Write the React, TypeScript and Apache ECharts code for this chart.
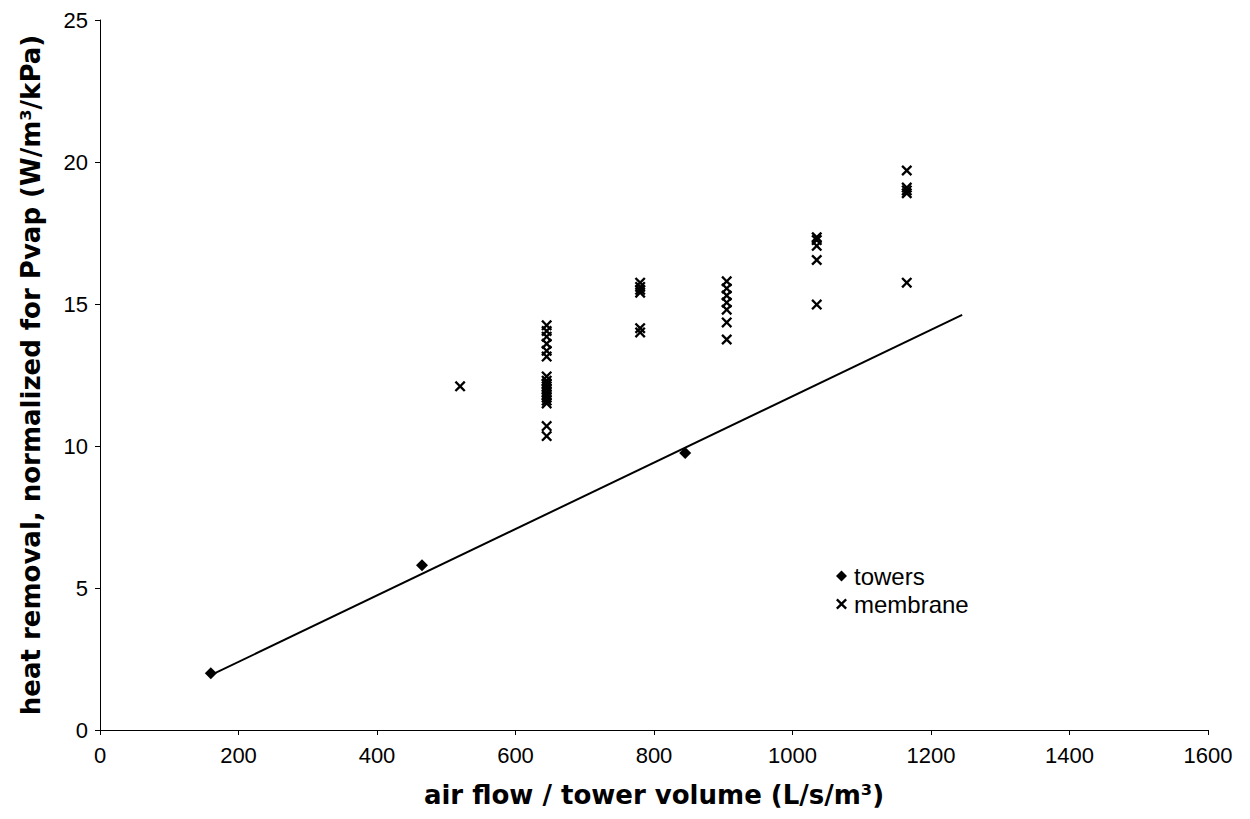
import React, { useEffect, useRef } from "react";
import * as echarts from "echarts";

// towers (filled diamonds)
const towersX = [160, 465, 845];
const towersY = [2.0, 5.8, 9.75];

// membrane (crosses)
const membraneX = [
  520,
  645, 645, 645, 645, 645, 645, 645, 645, 645, 645, 645, 645, 645, 645, 645, 645, 645, 645,
  780, 780, 780, 780, 780, 780,
  905, 905, 905, 905, 905, 905, 905,
  1035, 1035, 1035, 1035, 1035,
  1165, 1165, 1165, 1165, 1165,
];
const membraneY = [
  12.1,
  14.25, 14.05, 13.85, 13.6, 13.35, 13.15, 12.45, 12.3, 12.2, 12.1, 12.0, 11.9, 11.8, 11.7, 11.6, 11.5, 10.7, 10.35,
  15.75, 15.6, 15.5, 15.4, 14.15, 14.0,
  15.8, 15.55, 15.3, 15.05, 14.8, 14.35, 13.75,
  17.35, 17.25, 17.05, 16.55, 14.98,
  19.7, 19.1, 19.0, 18.9, 15.75,
];

// linear trend line of towers (endpoints)
const trendX = [160, 1245];
const trendY = [1.93, 14.62];

const FONT = "Liberation Sans, Arial, sans-serif";
const TITLE_FONT = "DejaVu Sans, Liberation Sans, Arial, sans-serif";
const CROSS = "path://M0,1.5L1.5,0L5,3.5L8.5,0L10,1.5L6.5,5L10,8.5L8.5,10L5,6.5L1.5,10L0,8.5L3.5,5Z";

export default function App() {
  const ref = useRef<HTMLDivElement>(null);
  useEffect(() => {
    const chart = echarts.init(ref.current!, null, { renderer: "svg" });
    chart.setOption({
      animation: false,
      backgroundColor: "#fff",
      textStyle: { fontFamily: FONT, color: "#000" },
      grid: { left: 100, right: 42, top: 20, bottom: 89, containLabel: false },
      legend: {
        orient: "vertical",
        left: 836,
        top: 564,
        padding: 0,
        itemWidth: 11,
        itemHeight: 11,
        itemGap: 4,
        selectedMode: false,
        textStyle: { fontFamily: FONT, fontSize: 24, color: "#000", padding: [0, 0, 0, 2] },
        data: [
          { name: "towers", icon: "diamond", itemStyle: { color: "#000", opacity: 1 } },
          { name: "membrane", icon: CROSS, itemStyle: { color: "#000", opacity: 1 } },
        ],
      },
      xAxis: {
        type: "value",
        min: 0,
        max: 1600,
        interval: 200,
        name: "air flow / tower volume (L/s/m³)",
        nameLocation: "middle",
        nameGap: 52,
        nameTextStyle: { fontFamily: TITLE_FONT, fontSize: 26, fontWeight: "bold", color: "#000" },
        axisLine: { show: true, onZero: false, lineStyle: { color: "#000", width: 1 } },
        axisTick: { show: true, inside: false, length: 5, lineStyle: { color: "#000" } },
        axisLabel: {
          fontFamily: FONT,
          fontSize: 22,
          color: "#000",
          margin: 14,
          formatter: (v: number) => String(v),
        },
        splitLine: { show: false },
      },
      yAxis: {
        type: "value",
        min: 0,
        max: 25,
        interval: 5,
        name: "heat removal, normalized for Pvap (W/m³/kPa)",
        nameLocation: "middle",
        nameGap: 56,
        nameTextStyle: { fontFamily: TITLE_FONT, fontSize: 26, fontWeight: "bold", color: "#000" },
        axisLine: { show: true, onZero: false, lineStyle: { color: "#000", width: 1 } },
        axisTick: { show: true, inside: false, length: 5, lineStyle: { color: "#000" } },
        axisLabel: {
          fontFamily: FONT,
          fontSize: 22,
          color: "#000",
          margin: 12,
          formatter: (v: number) => String(v),
        },
        splitLine: { show: false },
      },
      series: [
        {
          name: "trend",
          type: "line",
          data: trendX.map((x, i) => [x, trendY[i]]),
          showSymbol: false,
          symbol: "none",
          lineStyle: { color: "#000", width: 2 },
          silent: true,
          z: 1,
        },
        {
          name: "towers",
          type: "scatter",
          data: towersX.map((x, i) => [x, towersY[i]]),
          symbol: "diamond",
          symbolSize: 12,
          itemStyle: { color: "#000", opacity: 1 },
          z: 3,
        },
        {
          name: "membrane",
          type: "scatter",
          data: membraneX.map((x, i) => [x, membraneY[i]]),
          symbol: CROSS,
          symbolSize: 11,
          itemStyle: { color: "#000", opacity: 1 },
          z: 3,
        },
      ],
    });
    return () => chart.dispose();
  }, []);
  return (
    <div
      ref={ref}
      style={{ position: "absolute", left: 0, top: 0, width: 1250, height: 819, background: "#fff" }}
    />
  );
}
